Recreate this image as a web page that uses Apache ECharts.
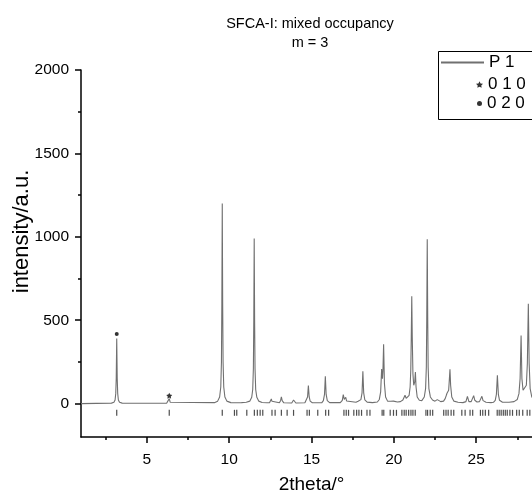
<!DOCTYPE html>
<html>
<head>
<meta charset="utf-8">
<script src="https://cdn.jsdelivr.net/npm/echarts@6/dist/echarts.min.js"></script>
<style>html,body{margin:0;padding:0;background:#fff;}#c{width:532px;height:494px;}</style>
</head>
<body>
<div id="c"></div>
<script>
// ---- data ----
var titleLines = ['SFCA-I: mixed occupancy', 'm = 3'];
var xTickLabels = [5, 10, 15, 20, 25];
var xMinorTicks = [2.5, 7.5, 12.5, 17.5, 22.5, 27.5];
var yTickLabels = [0, 500, 1000, 1500, 2000];
var yMinorTicks = [250, 750, 1250, 1750];

// calculated profile "P 1" (2theta / intensity vertices)
var profileX = [1, 2.85, 3.0, 3.07, 3.11, 3.14, 3.17, 3.2, 3.23, 3.27, 3.34, 3.5,
  6.2, 6.3, 6.36, 6.42, 6.52,
  9.1, 9.3, 9.42, 9.49, 9.53, 9.555, 9.58, 9.605, 9.63, 9.67, 9.74, 9.86, 10.1,
  10.5, 10.6, 10.75,
  11.04, 11.25, 11.37, 11.43, 11.47, 11.495, 11.52, 11.545, 11.57, 11.61, 11.68, 11.8, 12.0, 12.3,
  12.45, 12.52, 12.56, 12.6, 12.7,
  13.05, 13.12, 13.17, 13.22, 13.32,
  13.8, 13.87, 13.91, 13.95, 14.05,
  14.6, 14.7, 14.76, 14.81, 14.86, 14.92, 15.05,
  15.62, 15.72, 15.79, 15.84, 15.89, 15.96, 16.1,
  16.75, 16.87, 16.93, 16.99, 17.04, 17.08, 17.13, 17.25,
  17.7, 17.83, 17.88, 17.94, 18.0, 18.07, 18.12, 18.17, 18.24, 18.38, 18.7,
  19.0, 19.12, 19.2, 19.26, 19.31, 19.34, 19.38, 19.43, 19.5, 19.62,
  19.72, 19.8, 19.9, 19.98, 20.04, 20.1, 20.22,
  20.4, 20.5, 20.55, 20.6, 20.68, 20.75, 20.85,
  20.93, 20.99, 21.03, 21.06, 21.09, 21.12, 21.16, 21.21, 21.27, 21.31, 21.35, 21.42, 21.55, 21.7,
  21.75, 21.85, 21.93, 21.975, 22.0, 22.03, 22.06, 22.085, 22.13, 22.22, 22.35, 22.5,
  22.58, 22.64, 22.72, 22.85, 22.95, 23.02,
  23.12, 23.19, 23.23, 23.28, 23.33, 23.37, 23.41, 23.45, 23.52, 23.65, 23.9, 24.2,
  24.38, 24.47, 24.56, 24.7, 24.78, 24.85, 24.92, 25.05,
  25.2, 25.28, 25.35, 25.42, 25.6, 25.9,
  26.05, 26.16, 26.23, 26.29, 26.35, 26.42, 26.6, 27.0,
  27.3, 27.5, 27.6, 27.67, 27.73, 27.78, 27.85, 27.95,
  28.05, 28.11, 28.17, 28.22, 28.28, 28.38, 28.5, 28.7, 29.0];
var profileY = [0, 3, 8, 22, 60, 150, 390, 150, 60, 22, 8, 3,
  2, 8, 30, 8, 2,
  6, 15, 40, 100, 250, 600, 1200, 600, 250, 100, 40, 15, 6,
  5, 8, 6,
  8, 15, 38, 85, 210, 500, 990, 500, 210, 85, 38, 15, 7, 5,
  6, 14, 28, 14, 6,
  5, 18, 40, 18, 5,
  4, 11, 22, 11, 4,
  5, 15, 40, 108, 40, 15, 5,
  5, 18, 55, 164, 55, 18, 6,
  6, 20, 54, 26, 24, 38, 16, 7,
  8, 14, 20, 17, 24, 65, 194, 65, 22, 9, 6,
  10, 25, 70, 208, 150, 200, 356, 120, 40, 15,
  10, 14, 10, 15, 22, 15, 10,
  12, 18, 22, 22, 50, 32, 30,
  50, 100, 200, 400, 644, 400, 180, 110, 130, 190, 100, 40, 20, 18,
  22, 40, 90, 220, 500, 985, 500, 220, 90, 40, 22, 15,
  20, 24, 14, 12, 16, 15,
  30, 50, 62, 55, 80, 140, 206, 110, 40, 15, 8, 6,
  12, 44, 12, 12, 22, 48, 20, 10,
  12, 22, 44, 18, 8, 6,
  8, 20, 55, 170, 55, 20, 8, 8,
  12, 25, 60, 150, 408, 150, 80, 70,
  110, 240, 598, 240, 90, 40, 25, 30, 20];

// reflection positions (tick marks)
var reflections = [3.17, 6.36, 9.58, 10.32, 10.46, 11.07, 11.53, 11.71, 11.88, 12.04,
  12.6, 12.79, 13.17, 13.52, 13.91, 14.73, 14.87, 15.38, 15.86, 16.04,
  16.97, 17.11, 17.25, 17.57, 17.74, 17.88, 18.04, 18.37, 18.55,
  19.29, 19.39, 19.78, 19.98, 20.16, 20.49, 20.63, 20.75, 20.9, 21.04, 21.16, 21.3,
  21.95, 22.05, 22.21, 22.36, 23.03, 23.17, 23.3, 23.48, 23.64,
  24.13, 24.33, 24.63, 24.79, 25.26, 25.4, 25.56, 25.76,
  26.28, 26.4, 26.52, 26.65, 26.77, 26.89, 27.05, 27.21, 27.46, 27.62, 27.83, 28.1, 28.26];
var reflectionLevel = -55;

// marked reflections
var refl010 = [[6.36, 48]];
var refl020 = [[3.17, 418]];

// ---- chart ----
var FONT = '"Liberation Sans", Arial, sans-serif';
var profile = profileX.map(function (x, i) { return [x, profileY[i]]; });
var reflData = reflections.map(function (x) { return [x, reflectionLevel]; });
var STAR = 'path://M0,-10 L2.9,-4 L9.5,-3.1 L4.8,1.5 L5.9,8.1 L0,5 L-5.9,8.1 L-4.8,1.5 L-9.5,-3.1 L-2.9,-4 Z';
var plain = function (v) { return String(v); };

var chart = echarts.init(document.getElementById('c'), null, {renderer: 'canvas'});
var baseX = {type: 'value', min: 1, max: 29, position: 'bottom', splitLine: {show: false}};
var baseY = {type: 'value', min: -200, max: 2000, position: 'left', splitLine: {show: false}};
chart.setOption({
  animation: false,
  backgroundColor: '#fff',
  title: {
    text: titleLines.join('\n'),
    left: 305, top: 9, textAlign: 'center',
    textStyle: {fontFamily: FONT, fontSize: 14.5, fontWeight: 'normal', color: '#000', lineHeight: 19}
  },
  grid: {left: 81, top: 70, width: 461, height: 367, containLabel: false, outerBoundsMode: 'none'},
  xAxis: [
    Object.assign({}, baseX, {
      name: '2theta/°', nameLocation: 'middle', nameGap: 38, nameMoveOverlap: false,
      nameTextStyle: {fontFamily: FONT, fontSize: 19, color: '#000'},
      axisLine: {show: true, onZero: false, lineStyle: {color: '#000', width: 1.5}},
      axisTick: {show: true, inside: false, length: 6, customValues: xTickLabels, lineStyle: {color: '#000', width: 1.5}},
      axisLabel: {show: true, customValues: xTickLabels, formatter: plain, margin: 15, fontFamily: FONT, fontSize: 15.5, color: '#000'}
    }),
    Object.assign({}, baseX, {
      axisLine: {show: false, onZero: false},
      axisTick: {show: true, length: 3, customValues: xMinorTicks, lineStyle: {color: '#000', width: 1.5}},
      axisLabel: {show: false}
    })
  ],
  yAxis: [
    Object.assign({}, baseY, {
      name: 'intensity/a.u.', nameLocation: 'middle', nameGap: 48, nameMoveOverlap: false,
      nameTextStyle: {fontFamily: FONT, fontSize: 22, color: '#000', padding: [0, 0, 0, 44]},
      axisLine: {show: true, onZero: false, lineStyle: {color: '#000', width: 1.5}},
      axisTick: {show: true, length: 6, customValues: yTickLabels, lineStyle: {color: '#000', width: 1.5}},
      axisLabel: {show: true, customValues: yTickLabels, formatter: plain, margin: 12, fontFamily: FONT, fontSize: 15.5, color: '#000'}
    }),
    Object.assign({}, baseY, {
      axisLine: {show: false, onZero: false},
      axisTick: {show: true, length: 3, customValues: yMinorTicks, lineStyle: {color: '#000', width: 1.5}},
      axisLabel: {show: false}
    })
  ],
  legend: [
    {data: ['P 1'], left: 440, top: 54, padding: 0, itemWidth: 43, itemHeight: 14,
      itemStyle: {opacity: 0},
      textStyle: {fontFamily: FONT, fontSize: 17, color: '#000'}},
    {data: ['0 1 0'], left: 476, top: 76, padding: 0, itemWidth: 7, itemHeight: 7,
      textStyle: {fontFamily: FONT, fontSize: 17, color: '#000'}},
    {data: ['0 2 0'], left: 477, top: 95, padding: 0, itemWidth: 5, itemHeight: 5,
      textStyle: {fontFamily: FONT, fontSize: 17, color: '#000'}}
  ],
  graphic: [{
    type: 'rect', left: 436, top: 49, z: 10,
    shape: {width: 120, height: 68},
    style: {fill: 'none', stroke: '#000', lineWidth: 1}
  }],
  series: [
    {name: 'P 1', type: 'line', data: profile, symbol: 'none', showSymbol: false,
      lineStyle: {color: '#707070', width: 1.1}, itemStyle: {color: '#707070'}, z: 3},
    {name: 'reflections', type: 'scatter', data: reflData, symbol: 'rect', symbolSize: [1.2, 6],
      itemStyle: {color: '#222'}, z: 2},
    {name: '0 1 0', type: 'scatter', data: refl010, symbol: STAR, symbolSize: 6,
      itemStyle: {color: '#000'}, z: 4},
    {name: '0 2 0', type: 'scatter', data: refl020, symbol: 'circle', symbolSize: 4,
      itemStyle: {color: '#000'}, z: 4}
  ]
});
</script>
</body>
</html>
